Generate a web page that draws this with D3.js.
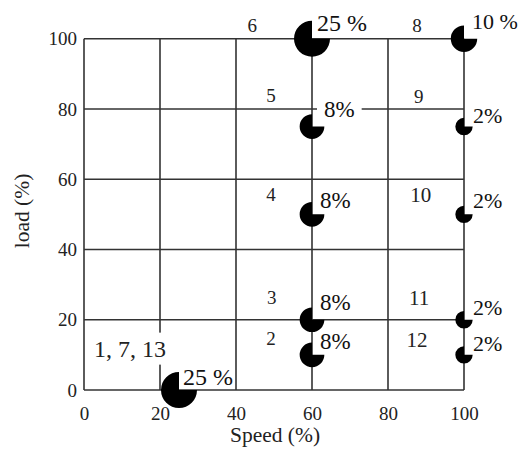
<!DOCTYPE html>
<html><head><meta charset="utf-8">
<script src="https://cdn.jsdelivr.net/npm/d3@7"></script>
<style>
body{margin:0;background:#fff}svg{display:block}
svg text{font-family:"Liberation Serif","Tinos","Times New Roman","DejaVu Serif",serif}
</style>
</head><body><svg id="chart" width="520" height="453"></svg>
<script>
// ---- data ----
const speedTicks = [0, 20, 40, 60, 80, 100];
const loadTicks  = [0, 20, 40, 60, 80, 100];
const modeNames    = ["1, 7, 13", "2", "3", "4", "5", "6", "8", "9", "10", "11", "12"];
const modeSpeed    = [25, 60, 60, 60, 60, 60, 100, 100, 100, 100, 100];
const modeLoad     = [0, 10, 20, 50, 75, 100, 100, 75, 50, 20, 10];
const modeWeight   = [25, 8, 8, 8, 8, 25, 10, 2, 2, 2, 2];
const weightLabels = ["25 %", "8%", "8%", "8%", "8%", "25 %", "10 %", "2%", "2%", "2%", "2%"];
// mode-number annotation anchors, in data units (speed, load)
const nameSpeed = [12.1, 49.2, 49.4, 49.2, 49.2, 44.3, 87.6, 88.1, 88.6, 88.2, 87.6];
const nameLoad  = [9.5, 12.8, 24.5, 53.8, 82.1, 102.0, 102.0, 81.7, 53.6, 24.2, 12.2];

// ---- layout / style ----
const layout = {
  left: 84, right: 464, top: 38.7, bottom: 390,
  pctDx: [4, 8, 8, 8, 12, 5, 8, 9, 9, 9, 9],
  pctDy: [-5, -6, -10, -6, -10, -8, -10, -4, -6, -5, -4],
  pctSize: [24, 23, 23, 23, 23, 24, 22, 22, 22, 22, 22],
  nameSize: [24, 19, 19, 19, 19, 19, 19, 19, 21, 21, 21],
  nameHalo: [true, false, false, false, false, false, false, false, false, false, false],
  pctHalo: [false, false, false, false, true, false, false, false, false, false, false]
};
const lineColor = "#333";

const svg = d3.select("#chart");
const x = d3.scaleLinear().domain([0, 100]).range([layout.left, layout.right]);
const y = d3.scaleLinear().domain([0, 100]).range([layout.bottom, layout.top]);
const r = d3.scaleSqrt().domain([0, 25]).range([5, 18]);

// grid
const grid = svg.append("g").attr("stroke", lineColor).attr("stroke-width", 1.6);
grid.selectAll("line.v").data(speedTicks).join("line").attr("class", "v")
  .attr("x1", d => x(d)).attr("x2", d => x(d)).attr("y1", y(0)).attr("y2", y(100));
grid.selectAll("line.h").data(loadTicks).join("line").attr("class", "h")
  .attr("y1", d => y(d)).attr("y2", d => y(d)).attr("x1", x(0)).attr("x2", x(100));

// axes (labels only)
const xAxis = svg.append("g").attr("transform", `translate(0,${layout.bottom})`)
  .call(d3.axisBottom(x).tickValues(speedTicks).tickSize(0).tickPadding(17));
const yAxis = svg.append("g").attr("transform", `translate(${layout.left},0)`)
  .call(d3.axisLeft(y).tickValues(loadTicks).tickSize(0).tickPadding(7));
[xAxis, yAxis].forEach(a => {
  a.select(".domain").remove();
  a.attr("font-family", null);
  a.selectAll("text").attr("font-size", 19).attr("fill", "#222");
});

svg.append("text").attr("x", (layout.left + layout.right) / 2 + 1).attr("y", 442)
  .attr("text-anchor", "middle").attr("font-size", 21.5).attr("fill", "#222")
  .text("Speed (%)");
svg.append("text").attr("transform", "translate(29,211) rotate(-90)")
  .attr("text-anchor", "middle").attr("font-size", 21.5).attr("fill", "#222")
  .text("load (%)");

// markers: 3/4 discs, top-right quarter missing
const arc = d3.arc().innerRadius(0).startAngle(Math.PI / 2).endAngle(2 * Math.PI);
const idx = d3.range(modeNames.length);
svg.append("g").selectAll("path").data(idx).join("path")
  .attr("transform", i => `translate(${x(modeSpeed[i])},${y(modeLoad[i])})`)
  .attr("d", i => arc({outerRadius: r(modeWeight[i])}))
  .attr("fill", "#000");

function haloText(g, halo, padX, padY) {
  if (!halo) return;
  const b = g.select("text").node().getBBox();
  g.insert("rect", "text").attr("x", b.x - padX).attr("y", b.y - padY)
    .attr("width", b.width + 2 * padX).attr("height", b.height + 2 * padY).attr("fill", "#fff");
}

// mode-number labels
idx.forEach(i => {
  const g = svg.append("g");
  g.append("text").attr("x", x(nameSpeed[i])).attr("y", y(nameLoad[i]))
    .attr("text-anchor", "middle")
    .attr("font-size", layout.nameSize[i]).attr("fill", "#222").text(modeNames[i]);
  haloText(g, layout.nameHalo[i], 2, 3);
});

// weight labels
idx.forEach(i => {
  const g = svg.append("g");
  g.append("text").attr("x", x(modeSpeed[i]) + layout.pctDx[i]).attr("y", y(modeLoad[i]) + layout.pctDy[i])
    .attr("font-size", layout.pctSize[i]).attr("fill", "#111")
    .text(weightLabels[i]);
  haloText(g, layout.pctHalo[i], 7, 2);
});
</script></body></html>
